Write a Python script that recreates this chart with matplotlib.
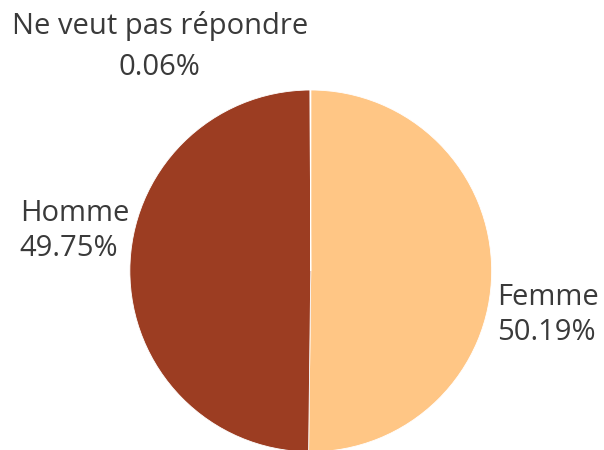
import matplotlib.pyplot as plt

# data
categories = ['Femme', 'Homme', 'Ne veut pas répondre']
percents = [50.19, 49.75, 0.06]
colors = ['#FFC685', '#9C3D22', '#4E79A7']

fig = plt.figure(figsize=(6.04, 4.5), dpi=100)
ax = fig.add_axes([0.215, -0.004, 0.599, 0.804])
ax.pie(percents, colors=colors, startangle=90, counterclock=False,
       radius=1, wedgeprops=dict(edgecolor='white', linewidth=0.6))
ax.set_xlim(-1, 1)
ax.set_ylim(-1, 1)
ax.set_aspect('equal')

font = dict(family='Open Sans', fontsize=21, color='#3a3a3a', linespacing=1.3)
labels = ['%s\n%.2f%%' % (c, p) for c, p in zip(categories, percents)]
ax.text(1.028, -0.243, labels[0], ha='left', va='center', **font)
ax.text(-1.608, 0.221, labels[1], ha='left', va='center', **font)
ax.text(-0.834, 1.24, labels[2], ha='center', va='center', multialignment='center',
        family='Open Sans', fontsize=21, color='#3a3a3a', linespacing=1.55)

fig.savefig('out.png', dpi=100)
